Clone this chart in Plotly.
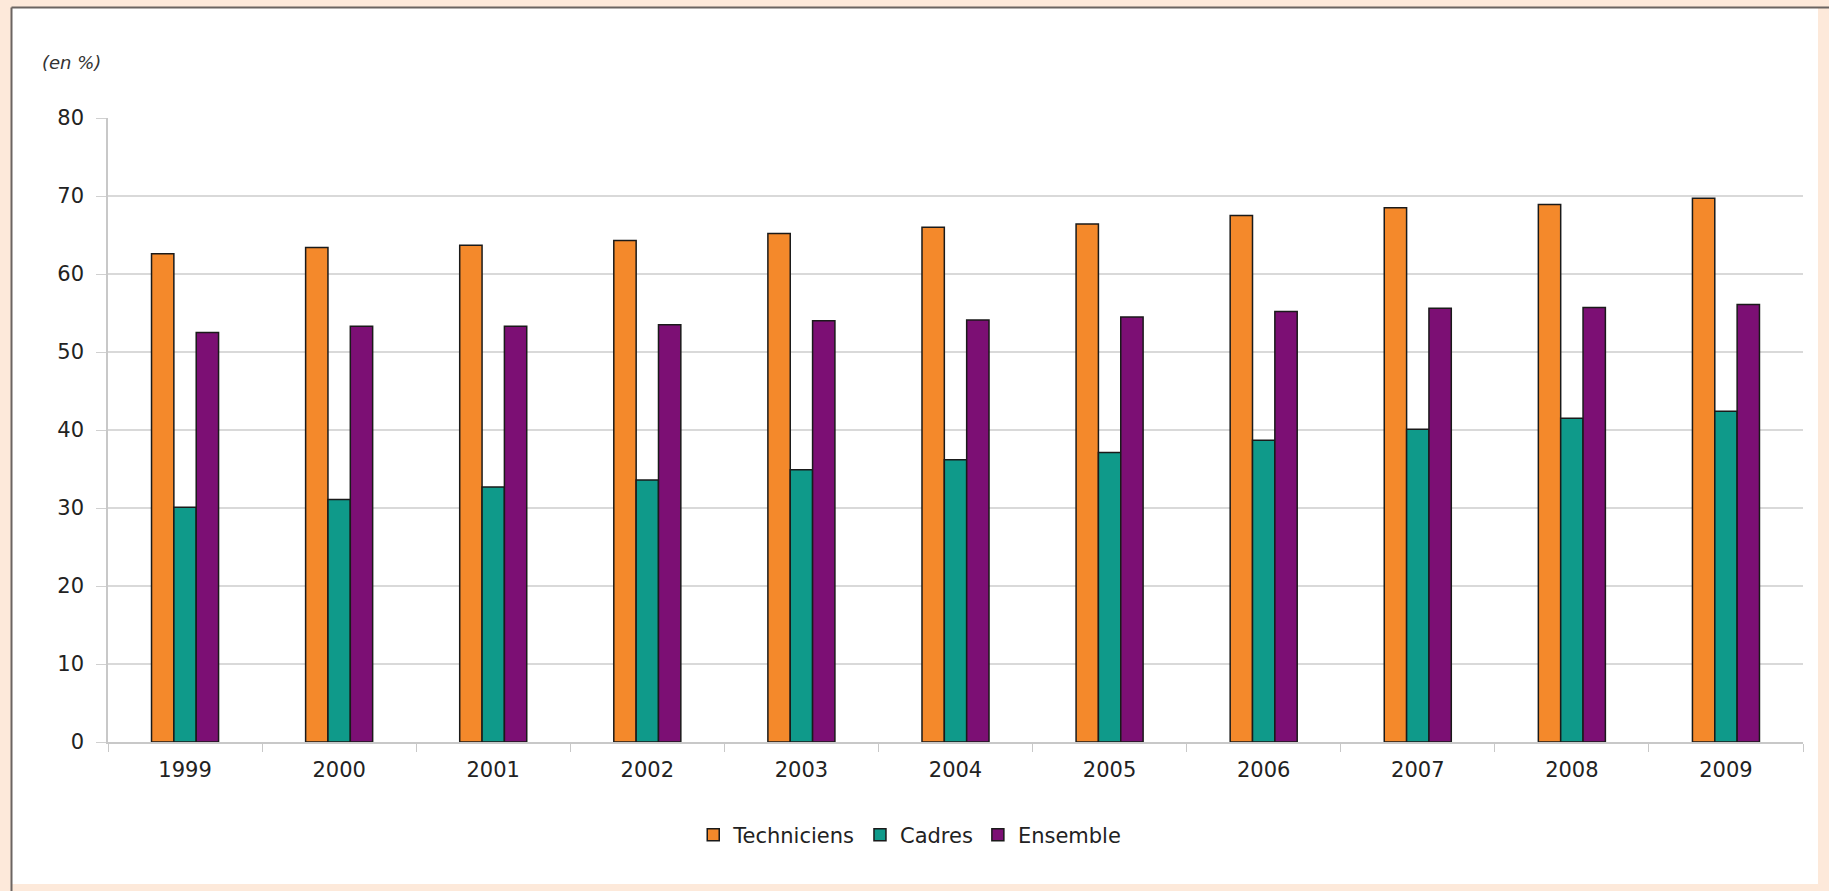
import plotly.graph_objects as go

years = ["1999", "2000", "2001", "2002", "2003", "2004", "2005", "2006", "2007", "2008", "2009"]
techniciens = [62.6, 63.4, 63.7, 64.3, 65.2, 66.0, 66.4, 67.5, 68.5, 68.9, 69.7]
cadres = [30.1, 31.1, 32.7, 33.6, 34.9, 36.2, 37.1, 38.7, 40.1, 41.5, 42.4]
ensemble = [52.5, 53.3, 53.3, 53.5, 54.0, 54.1, 54.5, 55.2, 55.6, 55.7, 56.1]
yticks = [0, 10, 20, 30, 40, 50, 60, 70, 80]

W, H = 1829, 891
L, R, T, B = 108, 26, 118, 149
pw, ph = W - L - R, H - T - B

def px_x(p):
    return (p - L) / pw

def px_y(p):
    return (H - B - p) / ph

fig = go.Figure()
series = [("Techniciens", techniciens, "#f4892b"),
          ("Cadres", cadres, "#0f9a8a"),
          ("Ensemble", ensemble, "#7c0f74")]
for name, vals, col in series:
    fig.add_trace(go.Bar(x=years, y=vals, name=name,
                         marker=dict(color=col, line=dict(color="#1a1a1a", width=1.5))))

shapes = [
    dict(type="rect", xref="paper", yref="paper", x0=px_x(12), x1=px_x(1818),
         y0=px_y(884), y1=px_y(8), fillcolor="white", line=dict(width=0), layer="below"),
    dict(type="line", xref="paper", yref="paper", x0=px_x(11.5), x1=px_x(11.5),
         y0=px_y(891), y1=px_y(7.5), line=dict(color="#6b6461", width=2)),
    dict(type="line", xref="paper", yref="paper", x0=px_x(11.5), x1=px_x(1829),
         y0=px_y(7.5), y1=px_y(7.5), line=dict(color="#6b6461", width=2)),
]

fig.update_layout(
    width=W, height=H,
    margin=dict(l=L, r=R, t=T, b=B),
    paper_bgcolor="#fde9da",
    plot_bgcolor="white",
    barmode="group",
    bargap=0.565,
    bargroupgap=0,
    font=dict(family="DejaVu Sans", color="#222222"),
    shapes=shapes,
    showlegend=True,
    legend=dict(orientation="h", x=0.473, xanchor="center", y=px_y(835), yanchor="middle",
                font=dict(family="DejaVu Sans", size=21, color="#222222"),
                bgcolor="rgba(0,0,0,0)", itemwidth=30, traceorder="normal"),
    annotations=[dict(text="<i>(en %)</i>", xref="paper", yref="paper",
                      x=px_x(40), y=px_y(62), xanchor="left", yanchor="middle",
                      showarrow=False, font=dict(family="DejaVu Sans", size=18, color="#333333"))],
)

fig.update_xaxes(
    type="category",
    showgrid=False,
    showline=True, linecolor="#c8c8c8", linewidth=1.5,
    ticks="outside", tickson="boundaries", ticklen=8, tickcolor="#c8c8c8",
    tickfont=dict(family="DejaVu Sans", size=21, color="#222222"),
    ticklabelstandoff=8,
)
fig.update_yaxes(
    range=[0, 80],
    tickvals=yticks,
    showgrid=True, gridcolor="#d9d9d9", gridwidth=1.5,
    showline=True, linecolor="#c8c8c8", linewidth=1.5,
    ticks="outside", ticklen=10, tickcolor="#d0d0d0",
    tickfont=dict(family="DejaVu Sans", size=21, color="#222222"),
    ticklabelstandoff=8,
    zeroline=False,
)

fig.write_html("out.html",
               config={"displayModeBar": False},
               post_script="document.body.style.margin='0';document.body.style.overflow='hidden';")
